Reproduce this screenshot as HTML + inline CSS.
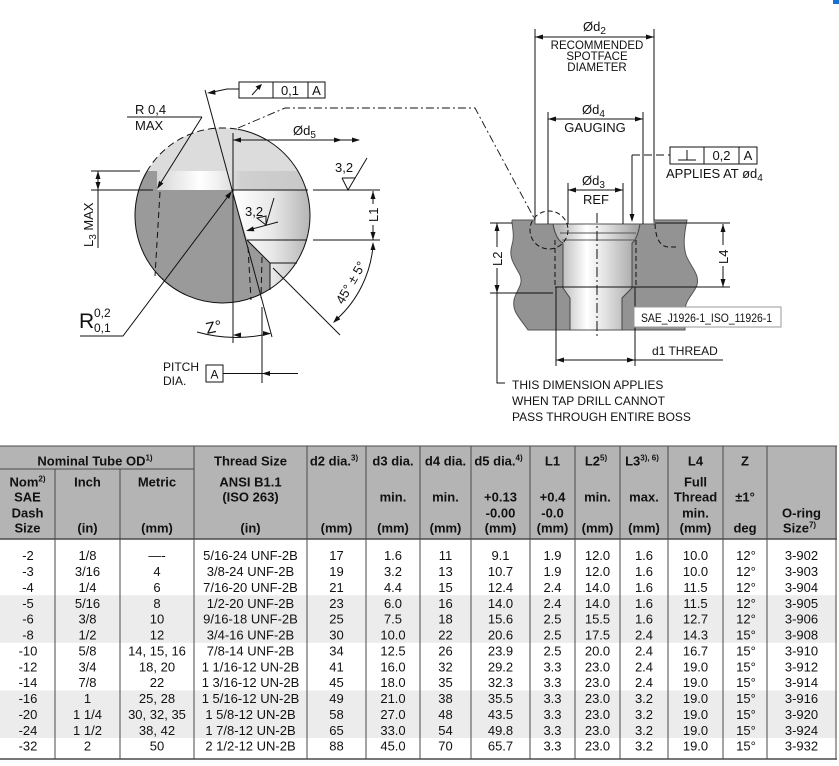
<!DOCTYPE html>
<html><head><meta charset="utf-8">
<style>
html,body{margin:0;padding:0;background:#fff;}
svg{display:block;font-family:"Liberation Sans",Arial,sans-serif;}
</style></head><body>
<svg width="839" height="766" viewBox="0 0 839 766" xmlns="http://www.w3.org/2000/svg">
<defs>
<clipPath id="cc"><circle cx="222.5" cy="215.5" r="87.5"/></clipPath>
<linearGradient id="gBand" x1="157" y1="0" x2="310" y2="0" gradientUnits="userSpaceOnUse">
 <stop offset="0" stop-color="#d6d6d6"/><stop offset="0.28" stop-color="#ffffff"/><stop offset="0.4" stop-color="#f0f0f0"/><stop offset="0.55" stop-color="#d0d0d0"/><stop offset="1" stop-color="#c8c8c8"/>
</linearGradient>
<linearGradient id="gLow" x1="235" y1="0" x2="310" y2="0" gradientUnits="userSpaceOnUse">
 <stop offset="0" stop-color="#ffffff"/><stop offset="0.5" stop-color="#e8e8e8"/><stop offset="1" stop-color="#b5b5b5"/>
</linearGradient>
<linearGradient id="gHole" x1="560" y1="0" x2="636" y2="0" gradientUnits="userSpaceOnUse">
 <stop offset="0" stop-color="#b8b8b8"/><stop offset="0.35" stop-color="#ffffff"/><stop offset="0.6" stop-color="#e2e2e2"/><stop offset="1" stop-color="#a6a6a6"/>
</linearGradient>
</defs>

<rect x="833" y="0" width="6" height="4" fill="#1a6fd0"/>

<!-- ===== LEFT DETAIL ===== -->
<g clip-path="url(#cc)">
 <rect x="130" y="125" width="185" height="46" fill="#dcdcdc"/>
 <rect x="130" y="171" width="185" height="19" fill="url(#gBand)"/>
 <rect x="130" y="190" width="185" height="120" fill="url(#gLow)"/>
 <path d="M120,171 L157,171 L157,190 L232,190 L247,240 L270,263 L270,310 L120,310 Z" fill="#9a9a9a"/>
</g>
<g fill="none" stroke="#111" stroke-width="1">
 <path d="M237.7,129.3 A87.5,87.5 0 1 1 146.7,171.75"/>
 <path d="M146.7,171.75 A87.5,87.5 0 0 1 237.7,129.3" stroke-dasharray="7 4"/>
 <line x1="232" y1="190" x2="308" y2="190"/>
 <line x1="247" y1="240" x2="307" y2="240"/>
 <line x1="270" y1="263" x2="297" y2="263"/>
 <line x1="270" y1="263" x2="270" y2="290"/>
 <line x1="247" y1="240" x2="270" y2="263"/>
 <line x1="233" y1="133" x2="233" y2="343"/>
 <line x1="205" y1="90" x2="272" y2="337"/>
 <line x1="160" y1="192" x2="155" y2="276" stroke-dasharray="6 4"/>
 <line x1="248" y1="247" x2="251" y2="300" stroke-dasharray="6 4"/>
 <line x1="262" y1="257" x2="261" y2="298" stroke-dasharray="6 4"/>
 <!-- L3 -->
 <line x1="91" y1="171" x2="140" y2="171"/>
 <line x1="91" y1="190" x2="153" y2="190"/>
 <line x1="98" y1="171" x2="98" y2="248"/>
 <!-- R0,4 -->
 <line x1="127" y1="117" x2="202" y2="117"/>
 <line x1="202" y1="117" x2="160" y2="184"/>
 <!-- runout FCF -->
 <rect x="239" y="82" width="86" height="16"/>
 <line x1="273" y1="82" x2="273" y2="98"/>
 <line x1="308" y1="82" x2="308" y2="98"/>
 <line x1="252" y1="95" x2="260" y2="86"/>
 <path d="M239,89 L227,89 L213,92"/>
 <!-- dash-dot link -->
 <path d="M238,128 L285,108 L475,108 L534,218" stroke-dasharray="8 3 2 3" stroke-width="0.9"/>
 <!-- d5 -->
 <line x1="233" y1="140" x2="359" y2="140"/>
 <!-- 3,2 right finish -->
 <path d="M342,178 L355,178 M342,178 L348,190 L367,158"/>
 <line x1="313" y1="190" x2="380" y2="190"/>
 <line x1="313" y1="240" x2="380" y2="240"/>
 <line x1="373" y1="191" x2="373" y2="240"/>
 <!-- 3,2 cone finish -->
 <line x1="252" y1="229" x2="278" y2="222"/>
 <path d="M257,218 L266,225 L266,216 Z M266,225 L274,198"/>
 <!-- 45 deg -->
 <line x1="273" y1="268" x2="340" y2="335"/>
 <path d="M373,246 A112,112 0 0 1 337,319"/>
 <!-- Z -->
 <path d="M197,332 A145,145 0 0 0 270,333.5"/>
 <!-- R0,2 leader -->
 <path d="M80,336 L123,336 L229,195"/>
 <!-- pitch dia -->
 <line x1="262" y1="307" x2="262" y2="383"/>
 <rect x="206" y="365" width="17" height="17"/>
 <line x1="223" y1="373.5" x2="298" y2="373.5"/>
</g>
<g fill="#111">
 <polygon points="207,93 215,89.8 215.6,94.8"/>
 <polygon points="157,189 163.4,183.5 159.1,180.9"/>
 <polygon points="262,84 255.5,86.5 259.5,90"/>
 <polygon points="233,140 241,137.5 241,142.5"/>
 <polygon points="342,140 334,137.5 334,142.5"/>
 <polygon points="360,140 352,137.5 352,142.5"/>
 <polygon points="98,171 95.5,179 100.5,179"/>
 <polygon points="98,190 95.5,182 100.5,182"/>
 <polygon points="232,191 229.2,198.9 225.2,195.9"/>
 <polygon points="246,231 254.4,231.2 253,226.4"/>
 <polygon points="373,191 370.5,199 375.5,199"/>
 <polygon points="373,240 370.5,232 375.5,232"/>
 <polygon points="373,242 370.5,250 375.5,250"/>
 <polygon points="333,323 340.4,319.2 336.8,315.6"/>
 <polygon points="233,335 241,332.5 241,337.5"/>
 <polygon points="271,333.5 263,331 263,336"/>
 <polygon points="262,373.5 270,371 270,376"/>
</g>
<rect x="366" y="204" width="14" height="21" fill="#fff"/>
<rect x="80" y="199" width="16" height="50" fill="#fff"/>
<g font-size="13" fill="#111">
 <text x="290" y="95" text-anchor="middle">0,1</text>
 <text x="316.5" y="95" text-anchor="middle">A</text>
 <text x="135" y="114">R 0,4</text>
 <text x="135" y="130">MAX</text>
 <text x="293" y="135">Ød<tspan font-size="10" dy="3">5</tspan></text>
 <text x="335" y="172">3,2</text>
 <text x="245" y="216">3,2</text>
 <text transform="translate(378,222) rotate(-90)">L1</text>
 <text transform="translate(93,247) rotate(-90)">L<tspan font-size="10" dy="3">3</tspan><tspan dy="-3"> MAX</tspan></text>
 <text transform="translate(343,305) rotate(-60)">45° ± 5°</text>
 <text transform="translate(207,334) rotate(-12)" font-size="16">Z°</text>
 <text x="79" y="328" font-size="21">R</text>
 <text x="94" y="317" font-size="12">0,2</text>
 <text x="94" y="332" font-size="12">0,1</text>
 <text x="163" y="371" font-size="12">PITCH</text>
 <text x="163" y="385" font-size="12">DIA.</text>
 <text x="214.5" y="378.5" font-size="12" text-anchor="middle">A</text>
</g>

<!-- ===== RIGHT SECTION ===== -->
<path d="M512,220 L535,220 L535,224 L654,224 L654,220 L687,220 C684,235 683,245 686,255 C690,266 700,274 697,285 C694,294 686,298 685,310 L685,330 L528,330 C520,318 512,312 514,300 C516,290 524,285 520,275 C515,265 508,258 512,245 C515,235 512,228 512,220 Z" fill="#939393"/>
<path d="M553,224 L640,224 Q637,240 632,243 L632,288 L622,298 L622,330 L570,330 L570,298 L563,288 L563,243 Q556,240 553,224 Z" fill="url(#gHole)"/>
<g fill="none" stroke="#111" stroke-width="1">
 <path d="M512,220 L535,220 L535,224 L654,224 L654,220 L687,220 C684,235 683,245 686,255 C690,266 700,274 697,285 C694,294 686,298 685,310 L685,330 L528,330 C520,318 512,312 514,300 C516,290 524,285 520,275 C515,265 508,258 512,245 C515,235 512,228 512,220" stroke="#555"/>
 <path d="M553,224 Q556,240 563,243 L563,288 L570,298 L570,330 M640,224 Q637,240 632,243 L632,288 L622,298 L622,330" stroke="#444"/>
 <line x1="560" y1="233" x2="636" y2="233" stroke="#555"/>
 <line x1="562" y1="240" x2="634" y2="240" stroke="#555"/>
 <line x1="555" y1="287" x2="640" y2="287"/>
 <line x1="555" y1="240" x2="555" y2="287" stroke-dasharray="5 3"/>
 <line x1="636" y1="240" x2="636" y2="287" stroke-dasharray="5 3"/>
 <line x1="597" y1="213" x2="597" y2="337" stroke-dasharray="10 3 2 3"/>
 <circle cx="549" cy="230" r="19" stroke-dasharray="5 3"/>
 <path d="M655,224 Q656,246 668,247 L678,247" stroke-dasharray="5 3"/>
 <!-- d2 -->
 <line x1="535" y1="29" x2="535" y2="220"/>
 <line x1="654" y1="29" x2="654" y2="220"/>
 <line x1="535" y1="37" x2="654" y2="37"/>
 <!-- d4 -->
 <line x1="548" y1="112" x2="548" y2="224"/>
 <line x1="643" y1="112" x2="643" y2="224"/>
 <line x1="548" y1="119" x2="643" y2="119"/>
 <!-- d3 -->
 <line x1="568" y1="183" x2="568" y2="224"/>
 <line x1="623" y1="183" x2="623" y2="224"/>
 <line x1="568" y1="190" x2="623" y2="190"/>
 <!-- FCF -->
 <rect x="670" y="147" width="87" height="17"/>
 <line x1="704" y1="147" x2="704" y2="164"/>
 <line x1="739" y1="147" x2="739" y2="164"/>
 <line x1="687" y1="150" x2="687" y2="160"/>
 <line x1="678" y1="160" x2="696" y2="160"/>
 <line x1="632" y1="155" x2="670" y2="155" stroke-dasharray="8 4"/>
 <line x1="632" y1="155" x2="632" y2="216"/>
 <!-- L2 -->
 <line x1="490" y1="223" x2="512" y2="223"/>
 <line x1="490" y1="293" x2="553" y2="293"/>
 <path d="M497,223 L497,383 L505,383"/>
 <!-- L4 -->
 <line x1="655" y1="223" x2="730" y2="223"/>
 <line x1="640" y1="287" x2="730" y2="287"/>
 <line x1="723" y1="224" x2="723" y2="287"/>
 <!-- d1 -->
 <line x1="556" y1="287" x2="556" y2="366"/>
 <line x1="635" y1="287" x2="635" y2="366"/>
 <line x1="556" y1="360" x2="723" y2="360"/>
</g>
<g fill="#111">
 <polygon points="535,37 543,34.5 543,39.5"/>
 <polygon points="654,37 646,34.5 646,39.5"/>
 <polygon points="548,119 556,116.5 556,121.5"/>
 <polygon points="643,119 635,116.5 635,121.5"/>
 <polygon points="568,190 576,187.5 576,192.5"/>
 <polygon points="623,190 615,187.5 615,192.5"/>
 <polygon points="632,222 629.5,214 634.5,214"/>
 <polygon points="497,223 494.5,231 499.5,231"/>
 <polygon points="497,293 494.5,285 499.5,285"/>
 <polygon points="723,224 720.5,232 725.5,232"/>
 <polygon points="723,287 720.5,279 725.5,279"/>
 <polygon points="556,360 564,357.5 564,362.5"/>
 <polygon points="635,360 627,357.5 627,362.5"/>
</g>
<rect x="490" y="247" width="14" height="21" fill="#fff"/>
<rect x="716" y="245" width="14" height="21" fill="#fff"/>
<rect x="634" y="307" width="147" height="20" fill="#fff" stroke="#9a9a9a"/>
<g font-size="13" fill="#111">
 <text x="583" y="31">Ød<tspan font-size="10" dy="3">2</tspan></text>
 <text x="597" y="49" font-size="11.5" text-anchor="middle">RECOMMENDED</text>
 <text x="597" y="60" font-size="11.5" text-anchor="middle">SPOTFACE</text>
 <text x="597" y="71" font-size="11.5" text-anchor="middle">DIAMETER</text>
 <text x="582" y="114">Ød<tspan font-size="10" dy="3">4</tspan></text>
 <text x="595" y="132" text-anchor="middle">GAUGING</text>
 <text x="582" y="185">Ød<tspan font-size="10" dy="3">3</tspan></text>
 <text x="596" y="204" text-anchor="middle">REF</text>
 <text x="721.5" y="160" text-anchor="middle">0,2</text>
 <text x="748" y="160" text-anchor="middle">A</text>
 <text x="666" y="178">APPLIES AT ød<tspan font-size="10" dy="3">4</tspan></text>
 <text transform="translate(502,266) rotate(-90)">L2</text>
 <text transform="translate(728,264) rotate(-90)">L4</text>
 <text x="641" y="322" font-size="11.5" textLength="131" lengthAdjust="spacingAndGlyphs">SAE_J1926-1_ISO_11926-1</text>
 <text x="652" y="355" font-size="12">d1 THREAD</text>
 <text x="512" y="389" font-size="12">THIS DIMENSION APPLIES</text>
 <text x="512" y="405" font-size="12">WHEN TAP DRILL CANNOT</text>
 <text x="512" y="421" font-size="12">PASS THROUGH ENTIRE BOSS</text>
</g>

<!-- ===== TABLE ===== -->
<rect x="0" y="446" width="837" height="93" fill="#b4b4b4"/>
<rect x="0" y="595.2" width="837" height="47.6" fill="#ececec"/>
<rect x="0" y="690.4" width="837" height="47.6" fill="#ececec"/>
<g stroke="#4a4a4a" stroke-width="1" fill="none">
 <line x1="0" y1="446" x2="837" y2="446"/>
 <line x1="0" y1="469" x2="194" y2="469"/>
 <line x1="0" y1="539" x2="837" y2="539" stroke-width="1.5"/>
 <line x1="0" y1="759" x2="837" y2="759" stroke-width="1.5"/>
 <line x1="55" y1="469" x2="55" y2="759"/>
 <line x1="120" y1="469" x2="120" y2="759"/>
 <line x1="194" y1="446" x2="194" y2="759"/>
 <line x1="307" y1="446" x2="307" y2="759"/>
 <line x1="366" y1="446" x2="366" y2="759"/>
 <line x1="420" y1="446" x2="420" y2="759"/>
 <line x1="471" y1="446" x2="471" y2="759"/>
 <line x1="530" y1="446" x2="530" y2="759"/>
 <line x1="575" y1="446" x2="575" y2="759"/>
 <line x1="620" y1="446" x2="620" y2="759"/>
 <line x1="668" y1="446" x2="668" y2="759"/>
 <line x1="723" y1="446" x2="723" y2="759"/>
 <line x1="767" y1="446" x2="767" y2="759"/>
 <line x1="836" y1="446" x2="836" y2="759"/>
</g>
<g font-size="13" font-weight="bold" fill="#111" text-anchor="middle">
 <text x="95" y="465.5">Nominal Tube OD<tspan font-size="8" dy="-5">1)</tspan></text>
 <text x="27.5" y="486.5">Nom<tspan font-size="8" dy="-5">2)</tspan></text>
 <text x="27.5" y="501.5">SAE</text>
 <text x="27.5" y="517.5">Dash</text>
 <text x="27.5" y="532.5">Size</text>
 <text x="87.5" y="486.5">Inch</text>
 <text x="87.5" y="532.5">(in)</text>
 <text x="157" y="486.5">Metric</text>
 <text x="157" y="532.5">(mm)</text>
 <text x="250.5" y="465.5">Thread Size</text>
 <text x="250.5" y="486.5">ANSI B1.1</text>
 <text x="250.5" y="501.5">(ISO 263)</text>
 <text x="250.5" y="532.5">(in)</text>
 <text x="334" y="465.5">d2 dia.<tspan font-size="8" dy="-5">3)</tspan></text>
 <text x="336.5" y="532.5">(mm)</text>
 <text x="393" y="465.5">d3 dia.</text>
 <text x="393" y="501.5">min.</text>
 <text x="393" y="532.5">(mm)</text>
 <text x="445.5" y="465.5">d4 dia.</text>
 <text x="445.5" y="501.5">min.</text>
 <text x="445.5" y="532.5">(mm)</text>
 <text x="498.5" y="465.5">d5 dia.<tspan font-size="8" dy="-5">4)</tspan></text>
 <text x="500.5" y="501.5">+0.13</text>
 <text x="500.5" y="517.5">-0.00</text>
 <text x="500.5" y="532.5">(mm)</text>
 <text x="552.5" y="465.5">L1</text>
 <text x="552.5" y="501.5">+0.4</text>
 <text x="552.5" y="517.5">-0.0</text>
 <text x="552.5" y="532.5">(mm)</text>
 <text x="596" y="465.5">L2<tspan font-size="8" dy="-5">5)</tspan></text>
 <text x="597.5" y="501.5">min.</text>
 <text x="597.5" y="532.5">(mm)</text>
 <text x="642" y="465.5">L3<tspan font-size="8" dy="-5">3), 6)</tspan></text>
 <text x="644" y="501.5">max.</text>
 <text x="644" y="532.5">(mm)</text>
 <text x="695.5" y="465.5">L4</text>
 <text x="695.5" y="486.5">Full</text>
 <text x="695.5" y="501.5">Thread</text>
 <text x="695.5" y="517.5">min.</text>
 <text x="695.5" y="532.5">(mm)</text>
 <text x="745" y="465.5">Z</text>
 <text x="745" y="501.5">±1°</text>
 <text x="745" y="532.5">deg</text>
 <text x="801.5" y="517.5">O-ring</text>
 <text x="799.5" y="532.5">Size<tspan font-size="8" dy="-5">7)</tspan></text>
</g>
<g font-size="13" fill="#111" text-anchor="middle">
 <g transform="translate(0,560.2)"><text x="28">-2</text><text x="87.5">1/8</text><text x="157">—-</text><text x="250.5">5/16-24 UNF-2B</text><text x="336.5">17</text><text x="393">1.6</text><text x="445.5">11</text><text x="500.5">9.1</text><text x="552.5">1.9</text><text x="597.5">12.0</text><text x="644">1.6</text><text x="695.5">10.0</text><text x="746">12°</text><text x="801.5">3-902</text></g>
 <g transform="translate(0,576.1)"><text x="28">-3</text><text x="87.5">3/16</text><text x="157">4</text><text x="250.5">3/8-24 UNF-2B</text><text x="336.5">19</text><text x="393">3.2</text><text x="445.5">13</text><text x="500.5">10.7</text><text x="552.5">1.9</text><text x="597.5">12.0</text><text x="644">1.6</text><text x="695.5">10.0</text><text x="746">12°</text><text x="801.5">3-903</text></g>
 <g transform="translate(0,591.9)"><text x="28">-4</text><text x="87.5">1/4</text><text x="157">6</text><text x="250.5">7/16-20 UNF-2B</text><text x="336.5">21</text><text x="393">4.4</text><text x="445.5">15</text><text x="500.5">12.4</text><text x="552.5">2.4</text><text x="597.5">14.0</text><text x="644">1.6</text><text x="695.5">11.5</text><text x="746">12°</text><text x="801.5">3-904</text></g>
 <g transform="translate(0,607.8)"><text x="28">-5</text><text x="87.5">5/16</text><text x="157">8</text><text x="250.5">1/2-20 UNF-2B</text><text x="336.5">23</text><text x="393">6.0</text><text x="445.5">16</text><text x="500.5">14.0</text><text x="552.5">2.4</text><text x="597.5">14.0</text><text x="644">1.6</text><text x="695.5">11.5</text><text x="746">12°</text><text x="801.5">3-905</text></g>
 <g transform="translate(0,623.7)"><text x="28">-6</text><text x="87.5">3/8</text><text x="157">10</text><text x="250.5">9/16-18 UNF-2B</text><text x="336.5">25</text><text x="393">7.5</text><text x="445.5">18</text><text x="500.5">15.6</text><text x="552.5">2.5</text><text x="597.5">15.5</text><text x="644">1.6</text><text x="695.5">12.7</text><text x="746">12°</text><text x="801.5">3-906</text></g>
 <g transform="translate(0,639.6)"><text x="28">-8</text><text x="87.5">1/2</text><text x="157">12</text><text x="250.5">3/4-16 UNF-2B</text><text x="336.5">30</text><text x="393">10.0</text><text x="445.5">22</text><text x="500.5">20.6</text><text x="552.5">2.5</text><text x="597.5">17.5</text><text x="644">2.4</text><text x="695.5">14.3</text><text x="746">15°</text><text x="801.5">3-908</text></g>
 <g transform="translate(0,655.5)"><text x="28">-10</text><text x="87.5">5/8</text><text x="157">14, 15, 16</text><text x="250.5">7/8-14 UNF-2B</text><text x="336.5">34</text><text x="393">12.5</text><text x="445.5">26</text><text x="500.5">23.9</text><text x="552.5">2.5</text><text x="597.5">20.0</text><text x="644">2.4</text><text x="695.5">16.7</text><text x="746">15°</text><text x="801.5">3-910</text></g>
 <g transform="translate(0,671.3)"><text x="28">-12</text><text x="87.5">3/4</text><text x="157">18, 20</text><text x="250.5">1 1/16-12 UN-2B</text><text x="336.5">41</text><text x="393">16.0</text><text x="445.5">32</text><text x="500.5">29.2</text><text x="552.5">3.3</text><text x="597.5">23.0</text><text x="644">2.4</text><text x="695.5">19.0</text><text x="746">15°</text><text x="801.5">3-912</text></g>
 <g transform="translate(0,687.2)"><text x="28">-14</text><text x="87.5">7/8</text><text x="157">22</text><text x="250.5">1 3/16-12 UN-2B</text><text x="336.5">45</text><text x="393">18.0</text><text x="445.5">35</text><text x="500.5">32.3</text><text x="552.5">3.3</text><text x="597.5">23.0</text><text x="644">2.4</text><text x="695.5">19.0</text><text x="746">15°</text><text x="801.5">3-914</text></g>
 <g transform="translate(0,703.1)"><text x="28">-16</text><text x="87.5">1</text><text x="157">25, 28</text><text x="250.5">1 5/16-12 UN-2B</text><text x="336.5">49</text><text x="393">21.0</text><text x="445.5">38</text><text x="500.5">35.5</text><text x="552.5">3.3</text><text x="597.5">23.0</text><text x="644">3.2</text><text x="695.5">19.0</text><text x="746">15°</text><text x="801.5">3-916</text></g>
 <g transform="translate(0,719.0)"><text x="28">-20</text><text x="87.5">1 1/4</text><text x="157">30, 32, 35</text><text x="250.5">1 5/8-12 UN-2B</text><text x="336.5">58</text><text x="393">27.0</text><text x="445.5">48</text><text x="500.5">43.5</text><text x="552.5">3.3</text><text x="597.5">23.0</text><text x="644">3.2</text><text x="695.5">19.0</text><text x="746">15°</text><text x="801.5">3-920</text></g>
 <g transform="translate(0,734.8)"><text x="28">-24</text><text x="87.5">1 1/2</text><text x="157">38, 42</text><text x="250.5">1 7/8-12 UN-2B</text><text x="336.5">65</text><text x="393">33.0</text><text x="445.5">54</text><text x="500.5">49.8</text><text x="552.5">3.3</text><text x="597.5">23.0</text><text x="644">3.2</text><text x="695.5">19.0</text><text x="746">15°</text><text x="801.5">3-924</text></g>
 <g transform="translate(0,750.7)"><text x="28">-32</text><text x="87.5">2</text><text x="157">50</text><text x="250.5">2 1/2-12 UN-2B</text><text x="336.5">88</text><text x="393">45.0</text><text x="445.5">70</text><text x="500.5">65.7</text><text x="552.5">3.3</text><text x="597.5">23.0</text><text x="644">3.2</text><text x="695.5">19.0</text><text x="746">15°</text><text x="801.5">3-932</text></g>
</g>
</svg>
</body></html>
